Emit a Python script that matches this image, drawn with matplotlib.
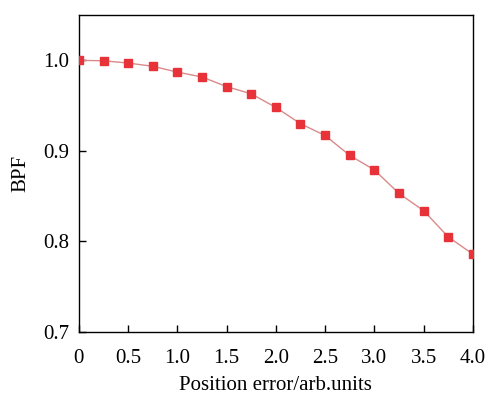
import matplotlib
matplotlib.use("Agg")
import matplotlib.pyplot as plt

x_vals = [0, 0.25, 0.5, 0.75, 1.0, 1.25, 1.5, 1.75, 2.0, 2.25, 2.5, 2.75, 3.0, 3.25, 3.5, 3.75, 4.0]
bpf = [1.0, 0.9995, 0.997, 0.9934, 0.987, 0.9816, 0.971, 0.963, 0.948, 0.930, 0.917, 0.895, 0.879, 0.853, 0.834, 0.805, 0.786]
x_ticks = [0, 0.5, 1.0, 1.5, 2.0, 2.5, 3.0, 3.5, 4.0]
x_labels = ["0", "0.5", "1.0", "1.5", "2.0", "2.5", "3.0", "3.5", "4.0"]
y_ticks = [0.7, 0.8, 0.9, 1.0]
y_labels = ["0.7", "0.8", "0.9", "1.0"]

plt.rcParams['font.family'] = ['Liberation Serif', 'DejaVu Serif']
fig = plt.figure(figsize=(4.9, 3.96), dpi=100)
ax = fig.add_axes([0.161, 0.1616, 0.804, 0.8004])
ax.plot(x_vals, bpf, color='#d98a8a', lw=1.0, marker='s', markersize=6,
        markerfacecolor='#e8323a', markeredgecolor='#e8323a', zorder=3, clip_on=True)
ax.set_xlim(0, 4.0)
ax.set_ylim(0.7, 1.05)
ax.set_xticks(x_ticks)
ax.set_xticklabels(x_labels)
ax.set_yticks(y_ticks)
ax.set_yticklabels(y_labels)
ax.tick_params(axis='x', direction='in', length=5, width=1, labelsize=15, top=False, pad=12)
ax.tick_params(axis='y', direction='in', length=5, width=1, labelsize=15, right=False, pad=7)
for s in ax.spines.values():
    s.set_linewidth(1.0)
ax.set_xlabel('Position error/arb.units', fontsize=15, labelpad=6)
ax.set_ylabel('BPF', fontsize=15, labelpad=9)
fig.savefig('out.png', dpi=100)
